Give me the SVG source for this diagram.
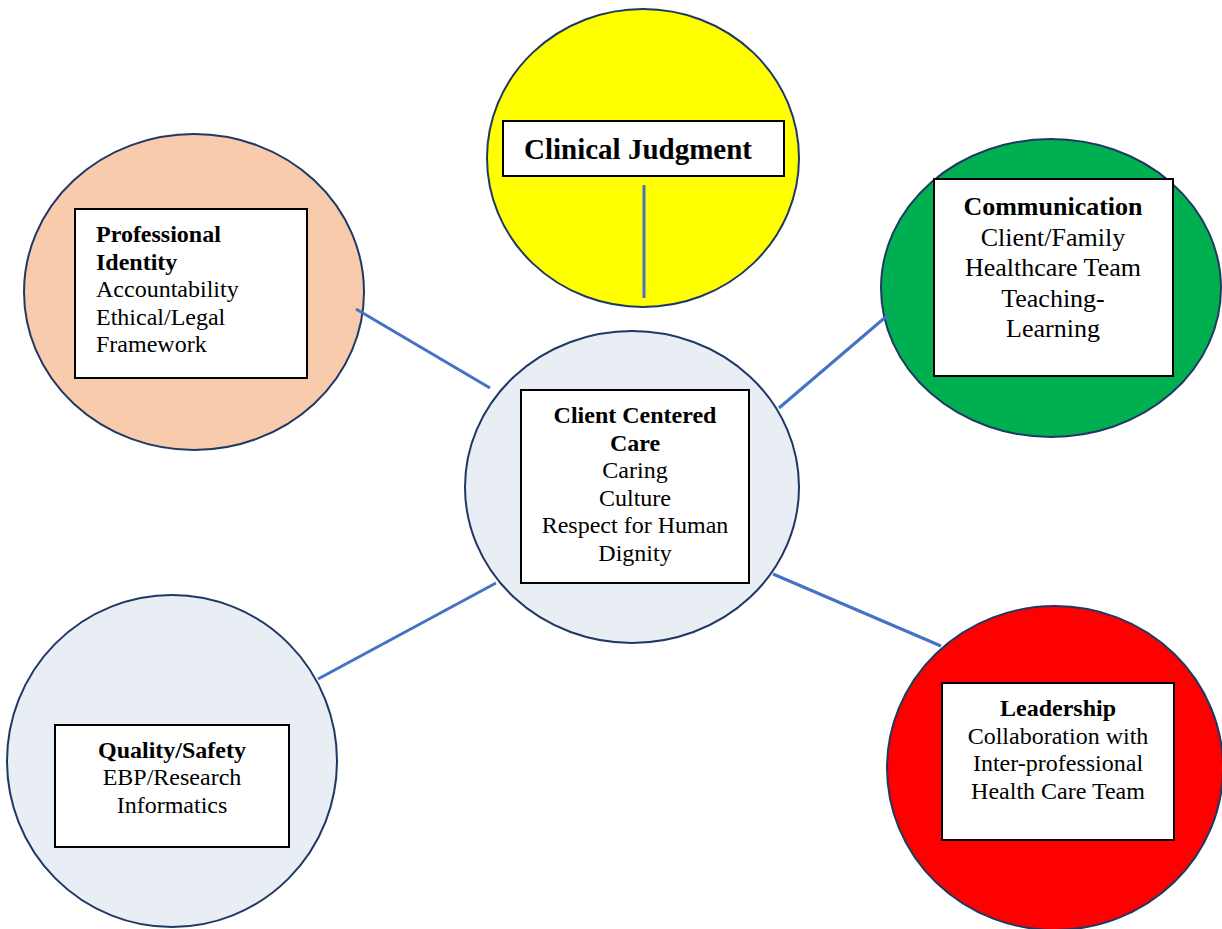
<svg xmlns="http://www.w3.org/2000/svg" width="1222" height="929" viewBox="0 0 1222 929">
<style>
.c{stroke:#1F3864;stroke-width:2}
.b{fill:#fff;stroke:#000;stroke-width:2}
.t{font-family:"Liberation Serif","Times New Roman",serif;font-size:24px;fill:#000}
.h{font-weight:bold}
.m{text-anchor:middle}
.k{stroke:#4472C4;stroke-width:3;fill:none}
</style>
<rect width="1222" height="929" fill="#fff"/>
<g id="clinical-judgment">
<ellipse class="c" cx="643" cy="158" rx="156" ry="149" fill="#FFFF00"/>
<rect class="b" x="503" y="121" width="281" height="55"/>
<text class="t h" x="524" y="159" style="font-size:29px">Clinical Judgment</text>
</g>
<g id="professional-identity">
<ellipse class="c" cx="194" cy="292" rx="170" ry="158" fill="#F8CBAD"/>
<rect class="b" x="75" y="209" width="232" height="169"/>
<text class="t" x="96"><tspan class="h" x="96" y="242">Professional</tspan><tspan class="h" x="96" y="270">Identity</tspan><tspan x="96" y="297">Accountability</tspan><tspan x="96" y="325">Ethical/Legal</tspan><tspan x="96" y="352">Framework</tspan></text>
</g>
<g id="communication">
<ellipse class="c" cx="1051" cy="288" rx="170" ry="149" fill="#00B050"/>
<rect class="b" x="934" y="179" width="239" height="197"/>
<text class="t m" style="font-size:26px"><tspan class="h" x="1053" y="215">Communication</tspan><tspan x="1053" y="246">Client/Family</tspan><tspan x="1053" y="276">Healthcare Team</tspan><tspan x="1053" y="307">Teaching-</tspan><tspan x="1053" y="337">Learning</tspan></text>
</g>
<g id="client-centered-care">
<ellipse class="c" cx="632" cy="487" rx="167" ry="156" fill="#E9EDF4"/>
<rect class="b" x="521" y="390" width="228" height="193"/>
<text class="t m"><tspan class="h" x="635" y="423">Client Centered</tspan><tspan class="h" x="635" y="451">Care</tspan><tspan x="635" y="478">Caring</tspan><tspan x="635" y="506">Culture</tspan><tspan x="635" y="533">Respect for Human</tspan><tspan x="635" y="561">Dignity</tspan></text>
</g>
<g id="quality-safety">
<ellipse class="c" cx="172" cy="761" rx="165" ry="166" fill="#E9EDF4"/>
<rect class="b" x="55" y="725" width="234" height="122"/>
<text class="t m"><tspan class="h" x="172" y="758">Quality/Safety</tspan><tspan x="172" y="785">EBP/Research</tspan><tspan x="172" y="813">Informatics</tspan></text>
</g>
<g id="leadership">
<ellipse class="c" cx="1055" cy="768" rx="168" ry="162" fill="#FF0000"/>
<rect class="b" x="942" y="683" width="232" height="157"/>
<text class="t m"><tspan class="h" x="1058" y="716">Leadership</tspan><tspan x="1058" y="744">Collaboration with</tspan><tspan x="1058" y="771">Inter-professional</tspan><tspan x="1058" y="799">Health Care Team</tspan></text>
</g>
<g id="connectors">
<line class="k" x1="644" y1="185" x2="644" y2="298"/>
<line class="k" x1="356" y1="309" x2="490" y2="388"/>
<line class="k" x1="888" y1="315" x2="779" y2="408"/>
<line class="k" x1="318" y1="679" x2="496" y2="583"/>
<line class="k" x1="773" y1="574" x2="941" y2="646"/>
</g>
</svg>
